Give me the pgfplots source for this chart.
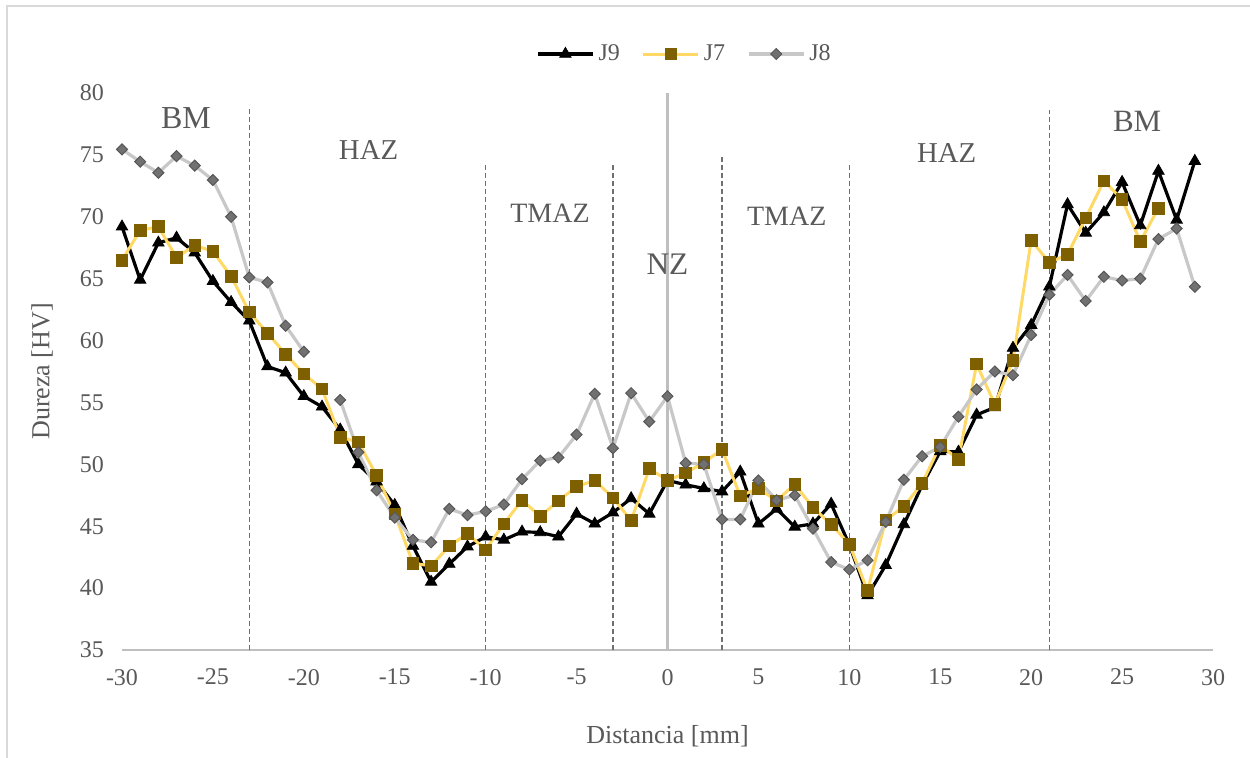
\documentclass[border=0pt]{standalone}
\usepackage{fontspec}
\setmainfont{Liberation Serif}
\usepackage{pgfplots}
\pgfplotsset{compat=1.18}
\definecolor{txt}{HTML}{595959}
\definecolor{jsev}{HTML}{FFD966}
\definecolor{jsevm}{HTML}{7F6000}
\definecolor{jeig}{HTML}{C8C8C8}
\definecolor{jeigm}{HTML}{717171}
\definecolor{jeigd}{HTML}{575757}
\definecolor{framec}{HTML}{D9D9D9}
\definecolor{dashc}{HTML}{707070}
\definecolor{zeroc}{HTML}{BFBFBF}
\begin{document}
\begin{tikzpicture}
\useasboundingbox (-61bp,-54bp) rectangle (564bp,325bp);
\draw[framec, line width=1bp] (-57.5bp,-60bp) -- (-57.5bp,322bp) -- (570bp,322bp);
\begin{axis}[
 at={(0,0)}, anchor=south west,
 scale only axis, width=545.5bp, height=278.5bp,
 xmin=-30, xmax=30, ymin=35, ymax=80,
 xtick={-30,-25,...,30}, ytick={35,40,...,80},
 major tick length=0pt,
 axis x line*=bottom, axis y line*=left,
 x axis line style={-, draw=zeroc, line width=1bp},
 y axis line style={draw=none},
 ticklabel style={font=\fontsize{12bp}{14bp}\selectfont, text=txt},
 /pgf/number format/assume math mode=true,
 yticklabel style={xshift=-5.5bp},
 xticklabel style={yshift=-6bp},
 xlabel={Distancia [mm]}, ylabel={Dureza [HV]},
 label style={font=\fontsize{13bp}{15bp}\selectfont, text=txt},
 xlabel style={at={(axis description cs:0.5,0)}, anchor=base, yshift=-46.5bp},
 ylabel style={at={(axis description cs:-0.0733,0.5)}, anchor=center},
 legend columns=-1,
 legend style={at={(axis description cs:0.5165,1.070)}, anchor=center, draw=none, fill=none,
   font=\fontsize{12bp}{14bp}\selectfont, text=txt,
   /tikz/every even column/.append style={column sep=9bp}},
 legend image code/.code={\draw[mark repeat=2,mark phase=2,#1] plot coordinates {(0bp,0bp) (13.75bp,0bp) (27.5bp,0bp)};},
 unbounded coords=jump,
 clip=false,
]
\draw[dashc, line width=0.75bp, dash pattern=on 2.4bp off 1.6bp] (axis cs:-23,35) -- (axis cs:-23,78.8);
\draw[dashc, line width=0.75bp, dash pattern=on 2.4bp off 1.6bp] (axis cs:-10,35) -- (axis cs:-10,74.4);
\draw[dashc, line width=0.75bp, dash pattern=on 2.4bp off 1.6bp] (axis cs:-3,35) -- (axis cs:-3,74.3);
\draw[dashc, line width=0.75bp, dash pattern=on 2.4bp off 1.6bp] (axis cs:3,35) -- (axis cs:3,74.8);
\draw[dashc, line width=0.75bp, dash pattern=on 2.4bp off 1.6bp] (axis cs:10,35) -- (axis cs:10,74.4);
\draw[dashc, line width=0.75bp, dash pattern=on 2.4bp off 1.6bp] (axis cs:21,35) -- (axis cs:21,78.6);
\draw[zeroc, line width=1.2bp] (axis cs:0,35) -- (axis cs:0,80);

\addplot[black, line width=1.6bp, mark=triangle*, mark size=3.3bp, mark options={solid, fill=black, line width=0.4bp}] coordinates {
(-30,69.2) (-29,64.9) (-28,67.9) (-27,68.3) (-26,67.1) (-25,64.8) (-24,63.1) (-23,61.6)
(-22,57.9) (-21,57.4) (-20,55.5) (-19,54.65) (-18,52.8) (-17,50.0) (-16,48.6) (-15,46.7)
(-14,43.4) (-13,40.5) (-12,41.95) (-11,43.35) (-10,44.15) (-9,43.9) (-8,44.55) (-7,44.5)
(-6,44.15) (-5,46.0) (-4,45.2) (-3,46.1) (-2,47.25) (-1,46.0) (0,48.7) (1,48.35)
(2,48.05) (3,47.8) (4,49.4) (5,45.2) (6,46.4) (7,44.95) (8,45.2) (9,46.8)
(10,43.5) (11,39.4) (12,41.85) (13,45.15) (14,48.3) (15,51.05) (16,51.0) (17,54.0)
(18,54.6) (19,59.4) (20,61.25) (21,64.35) (22,71.0) (23,68.7) (24,70.35) (25,72.8)
(26,69.3) (27,73.7) (28,69.75) (29,74.5)
};
\addlegendentry{J9}
\addplot[jsev, line width=1.5bp, mark=square*, mark size=2.9bp, mark options={solid, fill=jsevm, draw=jsevm, line width=0.4bp}] coordinates {
(-30,66.5) (-29,68.9) (-28,69.2) (-27,66.7) (-26,67.7) (-25,67.2) (-24,65.2) (-23,62.3)
(-22,60.6) (-21,58.9) (-20,57.3) (-19,56.1) (-18,52.2) (-17,51.8) (-16,49.1) (-15,46.0)
(-14,42.0) (-13,41.8) (-12,43.4) (-11,44.4) (-10,43.1) (-9,45.2) (-8,47.1) (-7,45.8)
(-6,47.05) (-5,48.2) (-4,48.7) (-3,47.3) (-2,45.45) (-1,49.65) (0,48.7) (1,49.3)
(2,50.15) (3,51.2) (4,47.45) (5,48.05) (6,47.05) (7,48.4) (8,46.5) (9,45.15)
(10,43.55) (11,39.8) (12,45.5) (13,46.6) (14,48.45) (15,51.55) (16,50.4) (17,58.1)
(18,54.85) (19,58.4) (20,68.1) (21,66.3) (22,66.95) (23,69.9) (24,72.9) (25,71.4)
(26,68.0) (27,70.7)
};
\addlegendentry{J7}
\addplot[jeig, line width=1.6bp, mark=square*, mark size=1.95bp, mark options={solid, rotate=45, fill=jeigm, draw=jeigd, line width=0.5bp}] coordinates {
(-30,75.45) (-29,74.45) (-28,73.56) (-27,74.9) (-26,74.13) (-25,72.97) (-24,70.0) (-23,65.1)
(-22,64.7) (-21,61.2) (-20,59.1) (-19,nan) (-18,55.2) (-17,50.97) (-16,47.9) (-15,45.7)
(-14,43.9) (-13,43.7) (-12,46.4) (-11,45.9) (-10,46.2) (-9,46.75) (-8,48.8) (-7,50.3)
(-6,50.55) (-5,52.4) (-4,55.7) (-3,51.3) (-2,55.75) (-1,53.45) (0,55.5) (1,50.1)
(2,50.0) (3,45.55) (4,45.55) (5,48.7) (6,47.1) (7,47.5) (8,44.8) (9,42.1)
(10,41.5) (11,42.25) (12,45.35) (13,48.75) (14,50.65) (15,51.4) (16,53.85) (17,56.05)
(18,57.5) (19,57.2) (20,60.45) (21,63.7) (22,65.3) (23,63.2) (24,65.15) (25,64.85)
(26,65.0) (27,68.2) (28,69.05) (29,64.35)
};
\addlegendentry{J8}

\node[anchor=base, text=txt, font=\fontsize{16bp}{18bp}\selectfont] at (axis cs:-26.48,77.17) {BM};
\node[anchor=base, text=txt, font=\fontsize{15.5bp}{18bp}\selectfont] at (axis cs:25.83,76.87) {BM};
\node[anchor=base, text=txt, font=\fontsize{14.4bp}{17bp}\selectfont] at (axis cs:-16.44,74.59) {HAZ};
\node[anchor=base, text=txt, font=\fontsize{14.4bp}{17bp}\selectfont] at (axis cs:15.35,74.38) {HAZ};
\node[anchor=base, text=txt, font=\fontsize{14bp}{17bp}\selectfont] at (axis cs:-6.46,69.5) {TMAZ};
\node[anchor=base, text=txt, font=\fontsize{14bp}{17bp}\selectfont] at (axis cs:6.56,69.33) {TMAZ};
\node[anchor=base, text=txt, font=\fontsize{15.7bp}{18bp}\selectfont] at (axis cs:0,65.37) {NZ};
\end{axis}
\end{tikzpicture}
\end{document}
